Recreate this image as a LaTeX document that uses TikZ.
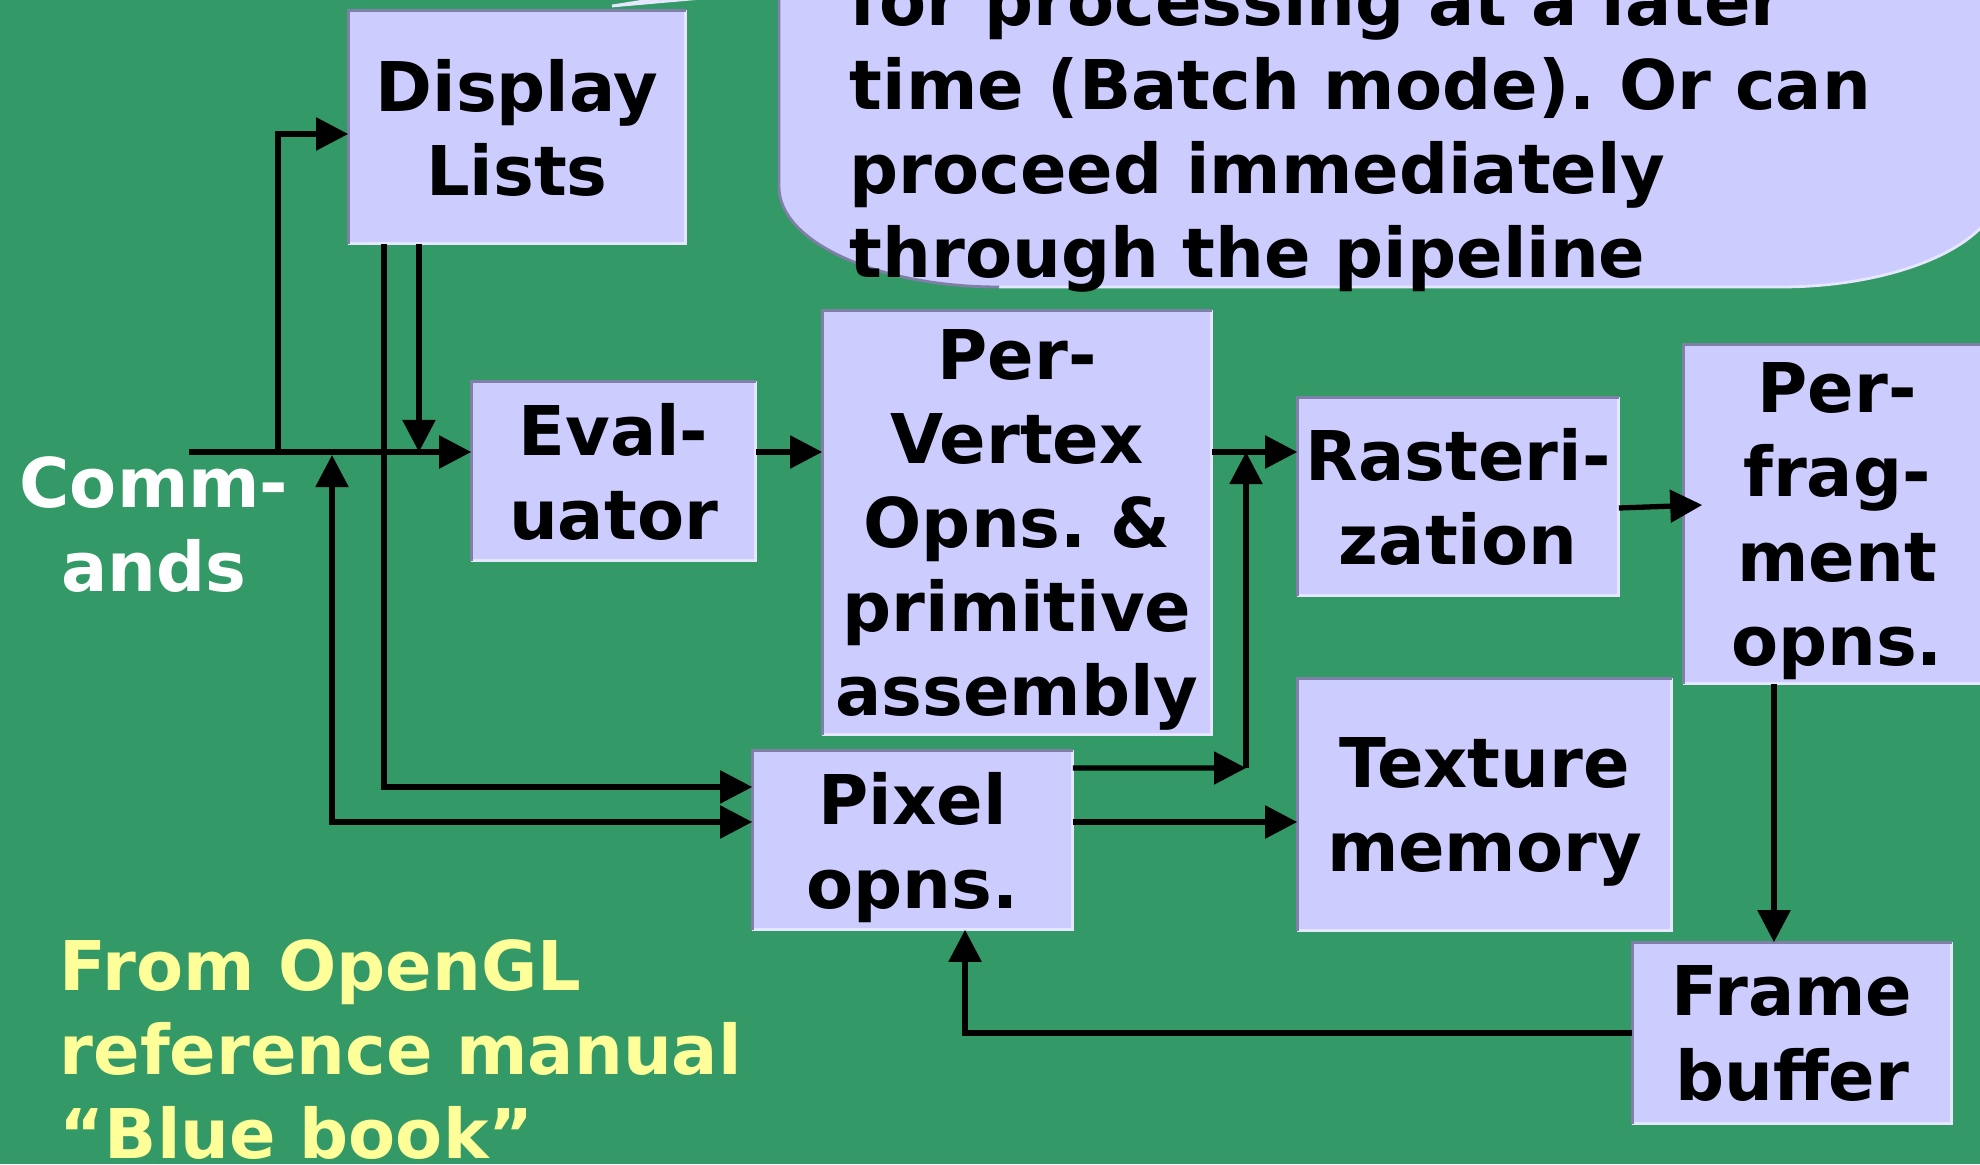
\documentclass[tikz,border=0pt]{standalone}
\usepackage{fontspec}
\setmainfont{DejaVu Sans}
\usetikzlibrary{arrows.meta,calc}
\definecolor{bg}{HTML}{339966}
\definecolor{boxfill}{HTML}{CCCCFF}
\definecolor{edgedark}{HTML}{7F7FA8}
\definecolor{edgelight}{HTML}{E6E6FF}
\definecolor{notecol}{HTML}{FFFF99}
\newcommand{\blockfont}{\fontsize{19.5pt}{23.9pt}\selectfont\bfseries\frenchspacing}

\begin{document}
\begin{tikzpicture}[x=0.01cm, y=-0.01cm,
  blockbox/.style={fill=boxfill, inner sep=0pt, align=center, font=\blockfont, text=black, text depth=0pt},
  wire/.style={line width=1.5pt, black},
  arr/.style={wire, -{Triangle[length=0.32cm, width=0.32cm]}},
  arrboth/.style={wire, {Triangle[length=0.32cm, width=0.32cm]}-{Triangle[length=0.32cm, width=0.32cm]}},
  bevdark/.style={edgedark, line width=0.8pt},
  bevlight/.style={edgelight, line width=0.8pt},
  plaintext/.style={font=\blockfont, inner sep=0pt},
]
\useasboundingbox (0,0) rectangle (1980,1164);
\fill[bg] (0,0) rectangle (1980,1164);
\clip (0,0) rectangle (1980,1164);

% speech bubble with its tail
\fill[boxfill, draw=edgelight, line width=0.8pt] (612,6) -- (1133,-40) -- (903,-40) -- cycle;
\fill[boxfill] (779,-200) -- (779,187) .. controls (779,242) and (878,287) .. (999,287)
  -- (1780,287) .. controls (1901,287) and (2000,242) .. (2000,187) -- (2000,-200) -- cycle;
\draw[bevlight] (999,287) -- (1780,287) .. controls (1901,287) and (2000,242) .. (2000,187);
\draw[bevdark] (779,-200) -- (779,187) .. controls (779,242) and (878,287) .. (999,287);
\node[plaintext, align=left, anchor=north west] (note) at (849,-27)
  {for processing at a later\\time (Batch mode). Or can\\proceed immediately\\through the pipeline};

% pipeline stages
\node[blockbox, minimum width=3.36cm, minimum height=2.32cm] (dl) at (517,127) {Display\\Lists};
\node[blockbox, minimum width=2.83cm, minimum height=1.78cm] (ev) at (613.5,471) {Eval-\\uator};
\node[blockbox, minimum width=3.88cm, minimum height=4.23cm] (pv) at (1017,522.5) {Per-\\Vertex\\Opns. \&\\primitive\\assembly};
\node[blockbox, minimum width=3.20cm, minimum height=1.97cm] (ra) at (1458,496.5) {Rasteri-\\zation};
\node[blockbox, minimum width=3.06cm, minimum height=3.38cm] (pf) at (1837,514) {Per-\\frag-\\ment\\opns.};
\node[blockbox, minimum width=3.73cm, minimum height=2.51cm] (tx) at (1484.5,804.5) {Texture\\memory};
\node[blockbox, minimum width=3.19cm, minimum height=1.78cm] (px) at (912.5,840) {Pixel\\opns.};
\node[blockbox, minimum width=3.18cm, minimum height=1.80cm] (fb) at (1792,1033) {Frame\\buffer};

\foreach \n in {dl,ev,pv,ra,pf,tx,px,fb} {
  \draw[bevlight] (\n.south west) -| (\n.north east);
  \draw[bevdark] (\n.south west) |- (\n.north east);
}

% connectors
\coordinate (cmd) at (189,452);
\coordinate (jA) at (278,452);
\coordinate (jB) at (332,455);
\coordinate (jC) at (1246,768);

\draw[arr] (cmd) -- (cmd -| ev.west);
\draw[arr] (jA) |- ([yshift=-0.07cm]dl.west);
\draw[arr] ([xshift=-0.98cm]dl.south) -- ([xshift=-0.98cm]dl.south |- cmd);
\draw[arr] ([xshift=-1.33cm]dl.south) |- ([yshift=0.53cm]px.west);
\draw[arrboth] (jB) |- ([yshift=0.18cm]px.west);
\draw[arr] (ev.east |- cmd) -- (pv.west |- cmd);
\draw[arr] (pv.east |- cmd) -- (ra.west |- cmd);
\draw[arr] ([yshift=0.72cm]px.east) -- (jC);
\draw[arr] (jC) -- (jC |- cmd);
\draw[arr] ([yshift=0.18cm]px.east) -- ([yshift=0.18cm]px.east -| tx.west);
\draw[arr] ([yshift=-0.115cm]ra.east) -- ([xshift=0.19cm, yshift=0.09cm]pf.west);
\draw[arr] ([xshift=-0.63cm]pf.south) -- ([xshift=-0.63cm]pf.south |- fb.north);
\draw[arr] (fb.west) -| ([xshift=0.525cm]px.south);

% labels
\node[plaintext, text=white, align=center] (cmdlabel) at (154,525) {Comm-\\ands};
\node[plaintext, text=notecol, align=left, anchor=north west] (source) at (59,939)
  {From OpenGL\\reference manual\\“Blue book”};
\end{tikzpicture}
\end{document}
